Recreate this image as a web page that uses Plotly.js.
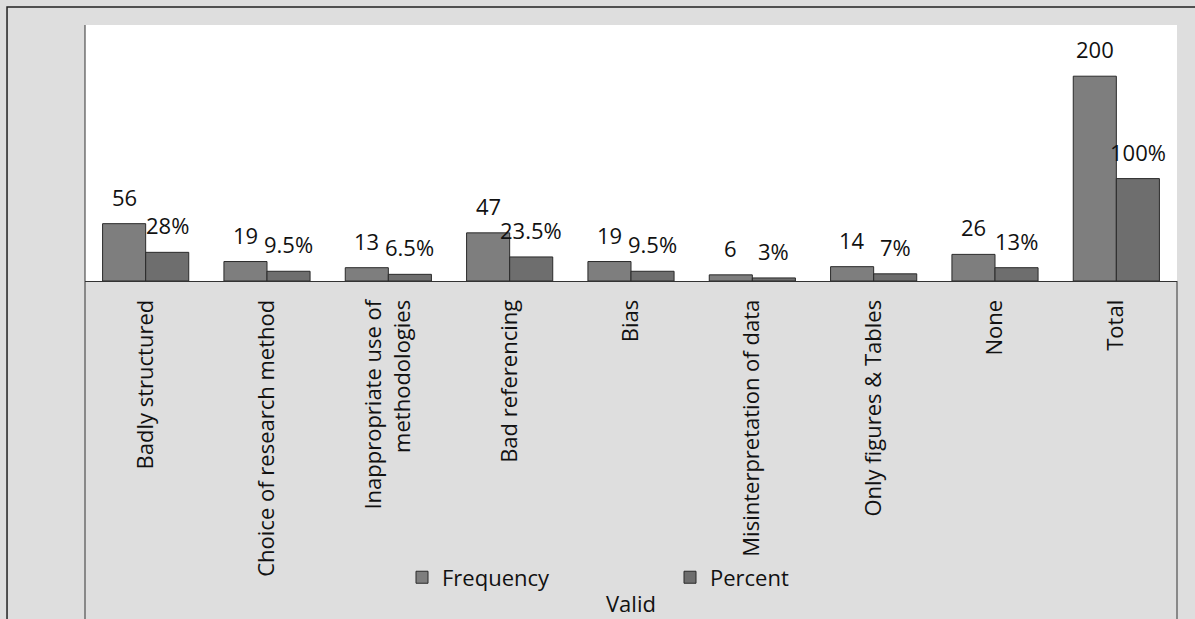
<!DOCTYPE html>
<html>
<head>
<meta charset="utf-8">
<script src="https://cdn.plot.ly/plotly-3.0.1.min.js"></script>
<style>html,body{margin:0;padding:0;background:#dedede;}#chart{width:1195px;height:619px;}</style>
</head>
<body>
<div id="chart"></div>
<script>
const categories = ['Badly structured', 'Choice of research method', 'Inappropriate use of<br>methodologies', 'Bad referencing', 'Bias', 'Misinterpretation of data', 'Only figures & Tables', 'None', 'Total'];
const frequency = [56, 19, 13, 47, 19, 6, 14, 26, 200];
const percent = [28, 9.5, 6.5, 23.5, 9.5, 3, 7, 13, 100];
const seriesNames = ['Frequency', 'Percent'];
const axisTitle = 'Valid';

const FONT = 'Open Sans, DejaVu Sans, sans-serif';
const freqColor = '#7e7e7e';
const pctColor = '#6e6e6e';

const traces = [
  {type: 'bar', name: seriesNames[0], x: categories, y: frequency,
   marker: {color: freqColor, line: {color: '#2a2a2a', width: 1}}, hoverinfo: 'y'},
  {type: 'bar', name: seriesNames[1], x: categories, y: percent,
   marker: {color: pctColor, line: {color: '#2a2a2a', width: 1}}, hoverinfo: 'y'}
];

const annotations = [];
categories.forEach((c, i) => {
  annotations.push({x: c, y: frequency[i], xref: 'x', yref: 'y', text: String(frequency[i]),
    showarrow: false, yanchor: 'bottom', xanchor: 'center', xshift: -21.5, yshift: 10,
    font: {family: FONT, size: 22, color: '#111'}});
  annotations.push({x: c, y: percent[i], xref: 'x', yref: 'y', text: percent[i] + '%',
    showarrow: false, yanchor: 'bottom', xanchor: 'center', xshift: 21.5, yshift: 10,
    font: {family: FONT, size: 22, color: '#111'}});
});
// axis title near the bottom edge, as in the reference
annotations.push({xref: 'paper', yref: 'paper', x: 0.5, y: -1.258, text: axisTitle,
  showarrow: false, xanchor: 'center', yanchor: 'middle',
  font: {family: FONT, size: 22, color: '#111'}});

const layout = {
  width: 1195, height: 619,
  margin: {l: 85, r: 18, t: 25, b: 338},
  paper_bgcolor: '#dedede',
  plot_bgcolor: '#ffffff',
  barmode: 'group',
  bargap: 0.29,
  bargroupgap: 0,
  showlegend: true,
  legend: {orientation: 'h', x: 0.2903, y: -1.158, xanchor: 'left', yanchor: 'middle',
    bgcolor: 'rgba(0,0,0,0)', font: {family: FONT, size: 22, color: '#111'},
    entrywidth: 223, entrywidthmode: 'pixels', itemwidth: 30, traceorder: 'normal'},
  xaxis: {type: 'category', tickangle: -90, ticks: '', showgrid: false, zeroline: false,
    showline: true, linecolor: '#333', linewidth: 1, automargin: false,
    ticklabelstandoff: 9,
    tickfont: {family: FONT, size: 22, color: '#111'}},
  yaxis: {range: [0, 250], visible: false, showgrid: false, zeroline: false, fixedrange: true},
  font: {family: FONT, size: 22, color: '#111'},
  annotations: annotations,
  shapes: [
    {type: 'rect', xref: 'paper', yref: 'paper', x0: -0.0714, x1: 1.05, y0: -1.4, y1: 1.0703,
     line: {color: '#222', width: 1.5}, fillcolor: 'rgba(0,0,0,0)', layer: 'below'},
    {type: 'line', xref: 'paper', yref: 'paper', x0: 0, x1: 0, y0: -1.4, y1: 1,
     line: {color: '#333', width: 1}},
    {type: 'line', xref: 'paper', yref: 'paper', x0: 1, x1: 1, y0: -1.4, y1: 0,
     line: {color: '#333', width: 1}}
  ]
};

Plotly.newPlot('chart', traces, layout, {displayModeBar: false, staticPlot: true});
</script>
</body>
</html>
